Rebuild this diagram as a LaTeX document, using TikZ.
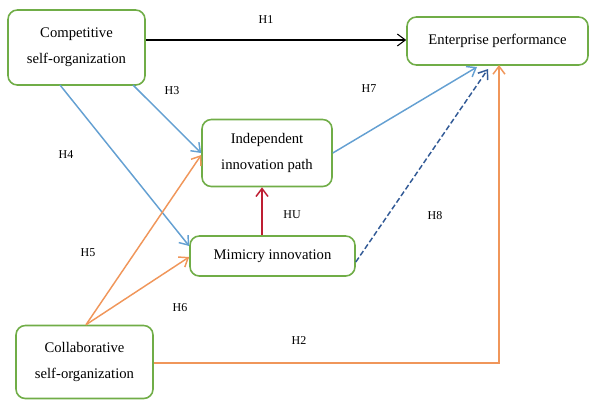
\documentclass[tikz,border=0pt]{standalone}
\usepackage{fontspec}
\setmainfont{Liberation Serif}
\usetikzlibrary{arrows.meta}
\definecolor{boxgreen}{RGB}{112,173,71}
\definecolor{lblue}{RGB}{100,160,210}
\definecolor{dblue}{RGB}{50,90,150}
\definecolor{lorange}{RGB}{240,150,90}
\definecolor{dred}{RGB}{190,30,50}
\begin{document}
\begin{tikzpicture}[x=0.75pt,y=-0.75pt,
  box/.style={draw=boxgreen,line width=1.2pt,rounded corners=7pt,fill=white,align=center,inner sep=0pt,font=\fontsize{11}{19.5}\selectfont},
  lab/.style={font=\fontsize{9}{10}\selectfont},
  arr/.style={-{Straight Barb[length=6pt,width=9pt]},line width=1.1pt}]
\useasboundingbox (0,0) rectangle (589,400);
\node[box,minimum width=137*0.75pt,minimum height=75*0.75pt] (comp) at (76.5,47.5) {Competitive\\self-organization};
\node[box,minimum width=181*0.75pt,minimum height=48*0.75pt] (ent) at (497.5,41) {Enterprise performance};
\node[box,minimum width=130*0.75pt,minimum height=67*0.75pt] (ind) at (267,153) {Independent\\innovation path};
\node[box,minimum width=165*0.75pt,minimum height=40*0.75pt] (mim) at (272.5,256) {Mimicry innovation};
\node[box,minimum width=137*0.75pt,minimum height=73*0.75pt] (col) at (84.5,362) {Collaborative\\self-organization};

\coordinate (entH7) at (477,67);
\coordinate (entH8) at (488,69);
\coordinate (entH2) at (499,65);
\coordinate (corner) at (499,363);

\draw[arr,black,line width=0.8pt] (comp.east |- 0,40) -- (ent.west |- 0,40);
\draw[arr,lblue] (133,85) -- (ind.west |- 0,153);
\draw[arr,lblue] (60,85) -- (mim.west |- 0,246);
\draw[arr,lorange] (col.north -| 86,0) -- (ind.west |- 0,155);
\draw[arr,lorange] (col.north -| 86,0) -- (mim.west |- 0,257);
\draw[arr,dred] (mim.north -| 262,0) -- (ind.south -| 262,0);
\draw[arr,lblue] (ind.east |- 0,153) -- (entH7);
\draw[arr,dblue,dashed,dash pattern=on 4pt off 2pt] (mim.east |- 0,262) -- (entH8);
\draw[arr,lorange] (col.east |- 0,363) -- (corner) -- (entH2);

\node[lab] (h1) at (266,20) {H1};
\node[lab] (h3) at (172,91) {H3};
\node[lab] (h4) at (66,155) {H4};
\node[lab] (h5) at (88,253) {H5};
\node[lab] (h6) at (180,308) {H6};
\node[lab] (hu) at (292,215) {HU};
\node[lab] (h7) at (369,89) {H7};
\node[lab] (h8) at (435,216) {H8};
\node[lab] (h2) at (299,341) {H2};
\end{tikzpicture}
\end{document}
